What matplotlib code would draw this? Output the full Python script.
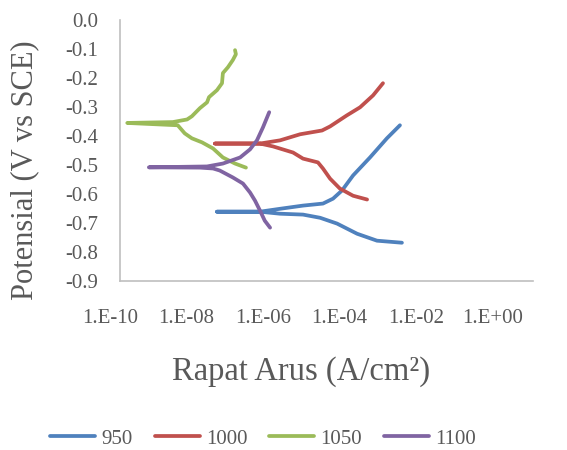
import matplotlib
matplotlib.use("Agg")
import matplotlib.pyplot as plt
import matplotlib.transforms as mtransforms

# ---- data (current density A/cm2, potential V vs SCE) ----
labels = ["950", "1000", "1050", "1100"]
colors = ["#4F81BD", "#C0504D", "#9BBB59", "#8064A2"]

i_950 = [6.7e-4, 1.67e-4, 5.5e-5, 1.8e-5, 7.0e-6, 2.7e-6, 7.5e-7, 2.45e-7, 2.23e-8,
         2.45e-7, 7.5e-7, 2.7e-6, 8.2e-6, 1.44e-5, 2.37e-5, 4.4e-5, 1.13e-4, 2.9e-4, 6.0e-4]
e_950 = [-0.768, -0.761, -0.737, -0.702, -0.682, -0.671, -0.668, -0.661, -0.661,
         -0.661, -0.651, -0.640, -0.633, -0.616, -0.588, -0.536, -0.474, -0.408, -0.363]

i_1000 = [9.6e-5, 4.4e-5, 2.1e-5, 1.22e-5, 8.2e-6, 6.2e-6, 2.7e-6, 1.55e-6, 5.1e-7, 2.45e-7,
          2.0e-8, 2.45e-7, 7.5e-7, 2.3e-6, 7.8e-6, 1.22e-5, 3.1e-5, 6.5e-5, 1.34e-4, 2.33e-4]
e_1000 = [-0.619, -0.606, -0.581, -0.547, -0.512, -0.491, -0.478, -0.457, -0.436, -0.426,
          -0.426, -0.426, -0.415, -0.394, -0.381, -0.367, -0.329, -0.301, -0.260, -0.218]

i_1050 = [1.12e-7, 6.1e-8, 3.1e-8, 1.79e-8, 9.7e-9, 5.5e-9, 3.7e-9, 2.5e-9, 1.5e-10,
          1.9e-9, 4.2e-9, 5.5e-9, 8.6e-9, 1.28e-8, 1.43e-8, 2.23e-8, 2.95e-8, 3.1e-8,
          4.1e-8, 5.4e-8, 6.4e-8, 6.1e-8]
e_1050 = [-0.509, -0.495, -0.474, -0.443, -0.422, -0.408, -0.391, -0.363, -0.355,
          -0.352, -0.343, -0.332, -0.304, -0.284, -0.266, -0.242, -0.218, -0.183,
          -0.163, -0.138, -0.118, -0.104]

i_1100 = [4.3e-7, 3.2e-7, 2.45e-7, 1.86e-7, 1.41e-7, 9.5e-8, 5.4e-8, 2.6e-8, 1.79e-8, 8.6e-9,
          5.0e-10, 1.28e-8, 3.1e-8, 8.1e-8, 1.41e-7, 2.07e-7, 2.9e-7, 4.1e-7]
e_1100 = [-0.716, -0.692, -0.657, -0.623, -0.595, -0.564, -0.543, -0.519, -0.512, -0.509,
          -0.508, -0.505, -0.495, -0.474, -0.446, -0.415, -0.370, -0.318]

x_ticks = [1e-10, 1e-8, 1e-6, 1e-4, 1e-2, 1e0]
x_ticklabels = ["1.E-10", "1.E-08", "1.E-06", "1.E-04", "1.E-02", "1.E+00"]
y_ticks = [0.0, -0.1, -0.2, -0.3, -0.4, -0.5, -0.6, -0.7, -0.8, -0.9]

series_i = [i_950, i_1000, i_1050, i_1100]
series_e = [e_950, e_1000, e_1050, e_1100]

# ---- figure ----
W, H = 567, 450
fig = plt.figure(figsize=(W / 100, H / 100), dpi=100)
ax = fig.add_axes([120 / W, 1 - 281 / H, (533 - 120) / W, (281 - 20) / H])

txt = "#595959"
font = "Liberation Serif"
LW = 2.7

handles = []
for xi, ye, c, lab in zip(series_i, series_e, colors, labels):
    h, = ax.plot(xi, ye, color=c, lw=LW, solid_capstyle="round",
                 solid_joinstyle="round", label=lab)
    handles.append(h)

ax.set_xscale("log")
ax.set_xlim(1e-10, 1e0)
ax.set_ylim(-0.9, 0.0)
ax.set_xticks(x_ticks)
ax.set_xticklabels(x_ticklabels)
ax.minorticks_off()
ax.set_yticks(y_ticks)
ax.set_yticklabels([f"{v:.1f}" for v in y_ticks])

for s in ["top", "right"]:
    ax.spines[s].set_visible(False)
for s in ["left", "bottom"]:
    ax.spines[s].set_color("#BFBFBF")
    ax.spines[s].set_linewidth(1.2)

ax.tick_params(axis="both", length=0, colors=txt, labelsize=15)
ax.tick_params(axis="y", pad=16)
ax.tick_params(axis="x", pad=20)
for t in ax.get_xticklabels() + ax.get_yticklabels():
    t.set_fontfamily(font)

# x tick labels in the reference sit slightly left of their ticks
for k, t in enumerate(ax.get_xticklabels()):
    dx = -(10 + 6.1 * k) / 100.0
    t.set_transform(t.get_transform() +
                    mtransforms.ScaledTranslation(dx, 0, fig.dpi_scale_trans))

fig.text(301 / W, 1 - 372 / H, "Rapat Arus (A/cm²)", ha="center", va="center",
         fontsize=23.5, color=txt, fontfamily=font)
fig.text(25 / W, 1 - 170 / H, "Potensial (V vs SCE)", ha="center", va="center",
         rotation=90, fontsize=22, color=txt, fontfamily=font)

leg = fig.legend(handles=handles, labels=labels, loc="center", ncol=4,
                 bbox_to_anchor=(263 / W, 1 - 439 / H), frameon=False,
                 handlelength=2.16, handletextpad=0.3, columnspacing=1.05,
                 prop={"family": font, "size": 15})
for t in leg.get_texts():
    t.set_color(txt)

fig.savefig("out.png", dpi=100)
